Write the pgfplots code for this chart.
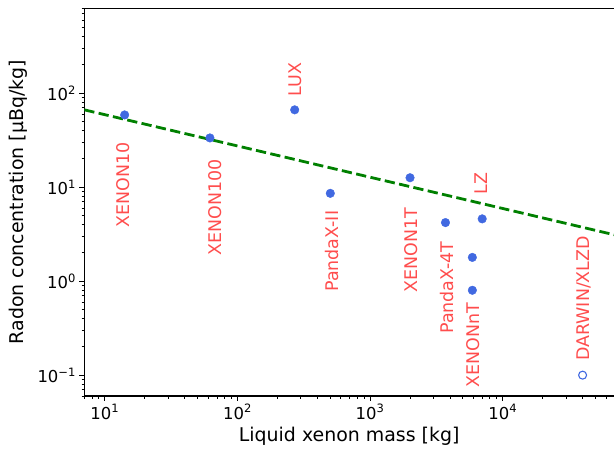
\documentclass[border=0pt]{standalone}
\usepackage{fontspec}
\setmainfont{DejaVu Sans}
\usepackage{pgfplots}
\pgfplotsset{compat=1.18}

\definecolor{ptblue}{RGB}{65,105,225}
\definecolor{lblred}{RGB}{255,77,77}
\definecolor{fitgreen}{RGB}{0,128,0}

\begin{document}
\begin{tikzpicture}
\begin{loglogaxis}[
    scale only axis, width=529.7bp, height=387.7bp,
    xmin=7, xmax=69000, ymin=0.06, ymax=800,
    log basis x=10, log basis y=10,
    axis y line*=left,
    tick pos=left,
    tick align=outside,
    axis line style={line width=1.1bp},
    major tick length=4.9bp, minor tick length=2.8bp,
    every tick/.style={black, line width=1.1bp},
    minor tick style={line width=0.8bp},
    xtick={10,100,1000,10000},
    ytick={0.1,1,10,100},
    minor xtick={7,8,9,20,30,40,50,60,70,80,90,200,300,400,500,600,700,800,900,
                 2000,3000,4000,5000,6000,7000,8000,9000,20000,30000,40000,50000,60000},
    minor ytick={0.06,0.07,0.08,0.09,0.2,0.3,0.4,0.5,0.6,0.7,0.8,0.9,
                 2,3,4,5,6,7,8,9,20,30,40,50,60,70,80,90,200,300,400,500,600,700,800},
    xticklabel={\pgfmathtruncatemacro\e{round(\tick)}10\textsuperscript{\ifnum\e<0 −\number-\e\else\e\fi}},
    yticklabel={\pgfmathtruncatemacro\e{round(\tick)}10\textsuperscript{\ifnum\e<0 −\number-\e\else\e\fi}},
    ticklabel style={font=\fontsize{16.5}{19}\selectfont},
    xlabel={Liquid xenon mass [kg]},
    ylabel={Radon concentration [µBq/kg]},
    label style={font=\fontsize{19}{22}\selectfont},
    xlabel style={yshift=-1bp},
    ylabel style={yshift=3bp},
  ]

  % power-law trend
  \addplot[fitgreen, line width=2.8bp, dash pattern=on 10.3bp off 4.4bp]
    coordinates {(7,66.5) (69000,3.12)};

  % measured
  \addplot[only marks, mark=*, mark size=4.3bp, ptblue, mark options={fill=ptblue, draw=ptblue}]
    coordinates {
      (14.1,58.7) (62,33.4) (270,66.5) (501,8.6) (2000,12.6)
      (3700,4.2) (7000,4.6) (5900,1.79) (5900,0.80)
    };

  % projected
  \addplot[only marks, mark=o, mark size=4.0bp, ptblue, mark options={line width=1.1bp, fill=white}]
    coordinates {(40000,0.1)};

  \begin{scope}[every node/.style={rotate=90, text=lblred, anchor=center,
                 font=\fontsize{17.5}{20}\selectfont, inner sep=0pt}]
    \node at (axis cs:13.8,10.6)   {XENON10};
    \node at (axis cs:68,6.08)     {XENON100};
    \node at (axis cs:275,139.6)   {LUX};
    \node at (axis cs:514,2.08)    {PandaX-II};
    \node at (axis cs:2032,2.13)   {XENON1T};
    \node at (axis cs:3776,0.855)  {PandaX-4T};
    \node at (axis cs:5985,0.2085) {XENONnT};
    \node at (axis cs:6925,10.9)   {LZ};
    \node at (axis cs:41000,0.656) {DARWIN/XLZD};
  \end{scope}

  \coordinate (sw) at (rel axis cs:0,0);
  \coordinate (ne) at (rel axis cs:1,1);
\end{loglogaxis}
\pgfresetboundingbox
\path ([shift={(-84.3bp,-53bp)}]sw) rectangle ([shift={(0bp,8.3bp)}]ne);
\end{tikzpicture}
\end{document}
